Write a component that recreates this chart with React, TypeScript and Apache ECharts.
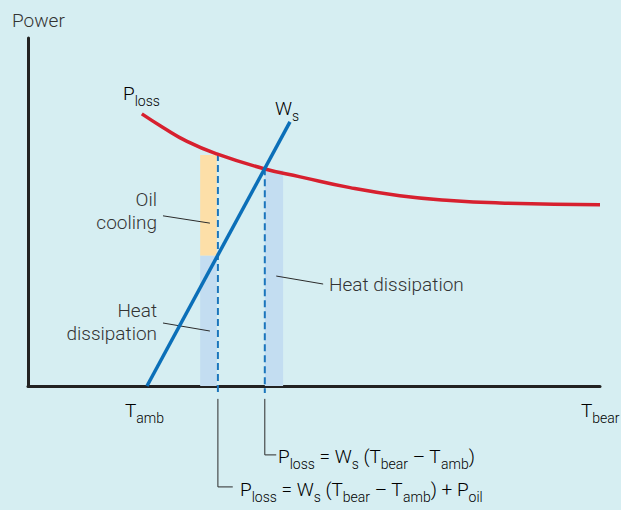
import React, { useEffect, useRef } from "react";
import * as echarts from "echarts";

// Axis domains (abstract units)
const tempDomain = [0, 100];
const powerDomain = [0, 100];

// P_loss curve (temperature, power)
const plossT = [19.9, 23.6, 27.8, 33.0, 41.1, 47.6, 56.3, 65.0, 73.8, 82.5, 100];
const plossP = [78.2, 74.3, 70.3, 66.7, 62.5, 60.1, 57.0, 54.7, 53.3, 52.6, 52.1];

// W_s line
const wsT = [20.8, 45.8];
const wsP = [0, 75.9];

// operating points
const tOilPoint = 33.2;
const pOilPoint = 66.7;
const tEqPoint = 41.4;
const pEqPoint = 62.6;
const belowAxis = -2;

// bars: [t0, t1, p0, p1, colourIndex]
const bandOil = [30.1, 33.0, 37.4, 66.4, 0];
const bandHeatLeft = [30.1, 33.0, 0, 37.4, 1];
const bandHeatRight = [41.4, 44.6, 0, 62.1, 1];

// formula brackets below axis
const bracketLeftT = [33.2, 33.2, 35.8];
const bracketLeftP = [-3.7, -29, -29];
const bracketRightT = [41.4, 41.4, 43.4];
const bracketRightP = [-3.7, -19.8, -19.8];

// leader lines
const leaderOilT = [23.6, 31.8];
const leaderOilP = [48.9, 46.8];
const leaderHeatLT = [23.6, 31.8];
const leaderHeatLP = [18.1, 15.8];
const leaderHeatRT = [43.4, 51.6];
const leaderHeatRP = [31.6, 29.3];

const zip = (a: number[], b: number[]) => a.map((v, i) => [v, b[i]]);

const TEXT = "#333333";
const FONT = "Roboto";
const WEIGHT = 300;

const richBase = {
  m: { fontSize: 19, fontFamily: FONT, fontWeight: WEIGHT, color: TEXT, lineHeight: 30 },
  s: { fontSize: 14, fontFamily: FONT, fontWeight: WEIGHT, color: TEXT, verticalAlign: "bottom" },
};

export default function App() {
  const ref = useRef<HTMLDivElement>(null);
  useEffect(() => {
    document.body.style.margin = "0";
    const chart = echarts.init(ref.current!, null, { renderer: "svg" });
    const fills = ["#fddfa8", "#c3ddf1"];
    const thin = (name: string, t: number[], p: number[]) => ({
      type: "line",
      name,
      data: zip(t, p),
      symbol: "none",
      clip: false,
      silent: true,
      z: 4,
      lineStyle: { color: "#2b2b2b", width: 1 },
    });
    const txt = (x: number, y: number, s: string, align = "left") => ({
      type: "text",
      x,
      y,
      silent: true,
      style: {
        text: s,
        align,
        verticalAlign: "middle",
        rich: richBase,
      },
    });
    const plain = (x: number, y: number, s: string, align = "left") => ({
      type: "text",
      x,
      y,
      silent: true,
      style: {
        text: s,
        align,
        verticalAlign: "middle",
        fontSize: 19,
        fontFamily: FONT,
        fontWeight: WEIGHT,
        fill: TEXT,
        lineHeight: 23,
      },
    });
    chart.setOption({
      animation: false,
      backgroundColor: "#d6eef2",
      grid: { left: 28, top: 38, width: 572, height: 348 },
      xAxis: {
        type: "value",
        min: tempDomain[0],
        max: tempDomain[1],
        axisLine: { show: true, onZero: false, lineStyle: { color: "#222222", width: 3 } },
        axisTick: { show: false },
        axisLabel: { show: false },
        splitLine: { show: false },
      },
      yAxis: {
        type: "value",
        min: powerDomain[0],
        max: powerDomain[1],
        axisLine: { show: true, onZero: false, lineStyle: { color: "#222222", width: 3 } },
        axisTick: { show: false },
        axisLabel: { show: false },
        splitLine: { show: false },
      },
      series: [
        {
          type: "custom",
          silent: true,
          z: 1,
          encode: { x: [0, 1], y: [2, 3] },
          data: [bandOil, bandHeatLeft, bandHeatRight],
          renderItem: (params: any, api: any) => {
            const a = api.coord([api.value(0), api.value(3)]);
            const b = api.coord([api.value(1), api.value(2)]);
            return {
              type: "rect",
              shape: { x: a[0], y: a[1], width: b[0] - a[0], height: b[1] - a[1] },
              style: { fill: fills[api.value(4)] },
            };
          },
        },
        {
          type: "line",
          name: "oilDash",
          data: [[tOilPoint, pOilPoint], [tOilPoint, belowAxis]],
          symbol: "none",
          clip: false,
          silent: true,
          z: 3,
          lineStyle: { color: "#1b75bc", width: 2, type: [7, 4] },
        },
        {
          type: "line",
          name: "eqDash",
          data: [[tEqPoint, pEqPoint], [tEqPoint, belowAxis]],
          symbol: "none",
          clip: false,
          silent: true,
          z: 3,
          lineStyle: { color: "#1b75bc", width: 2, type: [7, 4] },
        },
        {
          type: "line",
          name: "Ploss",
          data: zip(plossT, plossP),
          smooth: 0.5,
          symbol: "none",
          silent: true,
          z: 5,
          lineStyle: { color: "#d7202f", width: 3.5 },
        },
        {
          type: "line",
          name: "Ws",
          data: zip(wsT, wsP),
          symbol: "none",
          silent: true,
          z: 6,
          lineStyle: { color: "#0b6fb8", width: 3.5 },
        },
        thin("bracketL", bracketLeftT, bracketLeftP),
        thin("bracketR", bracketRightT, bracketRightP),
        thin("leaderOil", leaderOilT, leaderOilP),
        thin("leaderHeatL", leaderHeatLT, leaderHeatLP),
        thin("leaderHeatR", leaderHeatRT, leaderHeatRP),
      ],
      graphic: [
        plain(12, 20, "Power"),
        txt(123, 93, "{m|P}{s|loss}"),
        txt(275, 108, "{m|W}{s|s}"),
        plain(157, 211, "Oil\ncooling", "right"),
        plain(157, 321.5, "Heat\ndissipation", "right"),
        plain(329, 284, "Heat dissipation"),
        txt(125, 410, "{m|T}{s|amb}"),
        txt(581, 410, "{m|T}{s|bear}"),
        txt(278, 456, "{m|P}{s|loss}{m| = W}{s|s}{m| (T}{s|bear}{m| – T}{s|amb}{m|)}"),
        txt(240, 489, "{m|P}{s|loss}{m| = W}{s|s}{m| (T}{s|bear}{m| – T}{s|amb}{m|) + P}{s|oil}"),
      ],
    });
    return () => chart.dispose();
  }, []);
  return <div ref={ref} style={{ width: 621, height: 510 }} />;
}
